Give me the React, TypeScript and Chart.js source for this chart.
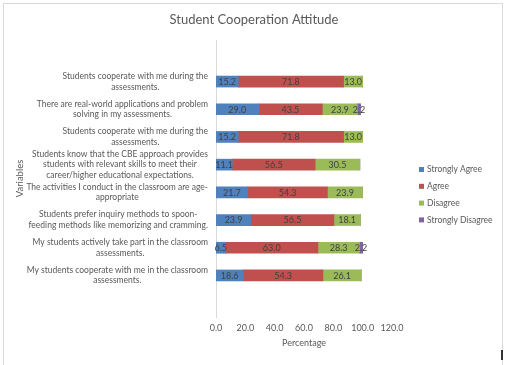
import React, { useEffect, useRef } from "react";
import { Chart, registerables } from "chart.js";

Chart.register(...registerables);

const categories: string[][] = [
  ["Students cooperate with me during the", "assessments."],
  ["There are real-world applications and problem", "solving in my assessments."],
  ["Students cooperate with me during the", "assessments."],
  [
    "Students know that the CBE approach provides",
    "students with relevant skills to meet their",
    "career/higher educational expectations.",
  ],
  ["The activities I conduct in the classroom are age-", "appropriate"],
  ["Students prefer inquiry methods to spoon-", "feeding methods like memorizing and cramming."],
  ["My students actively take part in the classroom", "assessments."],
  ["My students cooperate with me in the classroom", "assessments."],
];

const stronglyAgree = [15.2, 29.0, 15.2, 11.1, 21.7, 23.9, 6.5, 18.6];
const agree = [71.8, 43.5, 71.8, 56.5, 54.3, 56.5, 63.0, 54.3];
const disagree = [13.0, 23.9, 13.0, 30.5, 23.9, 18.1, 28.3, 26.1];
const stronglyDisagree = [0, 2.2, 0, 0, 0, 0, 2.2, 0];

const seriesNames = ["Strongly Agree", "Agree", "Disagree", "Strongly Disagree"];
const seriesValues = [stronglyAgree, agree, disagree, stronglyDisagree];
const seriesColors = ["#4F81BD", "#C0504D", "#9BBB59", "#8064A2"];

const xMin = 0;
const xMax = 120;
const xStep = 20;

const chartTitle = "Student Cooperation Attitude";
const xTitle = "Percentage";
const yTitle = "Variables";

const FONT = "Lato, 'Liberation Sans', sans-serif";
const TEXT = "#595959";

export default function App() {
  const canvasRef = useRef<HTMLCanvasElement | null>(null);

  useEffect(() => {
    if (!canvasRef.current) return;
    // one empty slot above and below the categories, as in the reference axis
    const labels = ["", ...categories.map((_, i) => String(i)), ""];
    const datasets = seriesNames.map((name, s) => ({
      label: name,
      data: [null, ...seriesValues[s], null],
      backgroundColor: seriesColors[s],
      borderWidth: 0,
      barThickness: 11,
    }));

    const drawPlugin = {
      id: "customText",
      afterDatasetsDraw(chart: any) {
        const ctx = chart.ctx;
        const yScale = chart.scales.y;
        ctx.save();
        // chart title
        ctx.font = `13px ${FONT}`;
        ctx.fillStyle = TEXT;
        ctx.textAlign = "center";
        ctx.textBaseline = "middle";
        ctx.fillText(chartTitle, chart.width / 2, 20);
        // category labels
        ctx.font = `8.5px ${FONT}`;
        const lh = 10.6;
        categories.forEach((lines, i) => {
          const yc = yScale.getPixelForValue(i + 1);
          const w = Math.max(...lines.map((l) => ctx.measureText(l).width));
          const cx = chart.chartArea.left - 8 - w / 2;
          lines.forEach((l, k) => {
            ctx.fillText(l, cx, yc - ((lines.length - 1) * lh) / 2 + k * lh);
          });
        });
        // data labels
        ctx.fillStyle = "#404040";
        ctx.font = `9px ${FONT}`;
        chart.data.datasets.forEach((ds: any, d: number) => {
          const meta = chart.getDatasetMeta(d);
          meta.data.forEach((el: any, i: number) => {
            const v = ds.data[i];
            if (v == null || v === 0) return;
            const p = el.getProps(["x", "y", "base"], true);
            ctx.fillText(v.toFixed(1), (p.x + p.base) / 2, p.y + 0.5);
          });
        });
        // legend
        ctx.textAlign = "left";
        ctx.font = `8.5px ${FONT}`;
        const lx = 419;
        const ly0 = 169.5;
        const lstep = 16.8;
        seriesNames.forEach((n, s) => {
          const y = ly0 + s * lstep;
          ctx.fillStyle = seriesColors[s];
          ctx.fillRect(lx, y - 2.5, 5, 5);
          ctx.fillStyle = TEXT;
          ctx.fillText(n, lx + 8, y);
        });
        ctx.restore();
      },
    };

    const chart = new Chart(canvasRef.current, {
      type: "bar",
      data: { labels, datasets },
      options: {
        indexAxis: "y",
        responsive: false,
        animation: false,
        layout: { padding: { left: 0, right: 116, top: 40, bottom: 0 } },
        plugins: {
          legend: { display: false },
          tooltip: { enabled: false },
          title: { display: false },
        },
        scales: {
          x: {
            type: "linear",
            stacked: true,
            min: xMin,
            max: xMax,
            grid: { display: false, drawTicks: false },
            border: { display: false },
            ticks: {
              stepSize: xStep,
              color: TEXT,
              font: { family: FONT, size: 9 },
              padding: 6,
              callback: (v: any) => Number(v).toFixed(1),
            },
            title: {
              display: true,
              text: xTitle,
              color: TEXT,
              font: { family: FONT, size: 9 },
              padding: { top: 0, bottom: 17 },
            },
            afterFit: (scale: any) => {
              scale.height = 48;
            },
          },
          y: {
            type: "category",
            stacked: true,
            grid: { display: false, drawTicks: false },
            border: { display: true, color: "#d9d9d9" },
            ticks: { display: false },
            title: {
              display: true,
              text: yTitle,
              color: TEXT,
              font: { family: FONT, size: 9.5 },
              padding: { top: 14, bottom: 0 },
            },
            afterFit: (scale: any) => {
              scale.width = 216;
            },
          },
        },
      } as any,
      plugins: [drawPlugin],
    });
    return () => chart.destroy();
  }, []);

  return (
    <div
      style={{
        position: "absolute",
        left: 0,
        top: 0,
        width: 508,
        height: 365,
        overflow: "hidden",
        background: "#fff",
      }}
    >
      <canvas ref={canvasRef} width={508} height={365} style={{ position: "absolute", left: 0, top: 0 }} />
      <div
        style={{
          position: "absolute",
          left: 3,
          top: 3,
          width: 500,
          height: 420,
          boxSizing: "border-box",
          border: "1px solid #d9d9d9",
          pointerEvents: "none",
        }}
      />
      <div style={{ position: "absolute", left: 501, top: 350, width: 2, height: 10, background: "#333" }} />
    </div>
  );
}
